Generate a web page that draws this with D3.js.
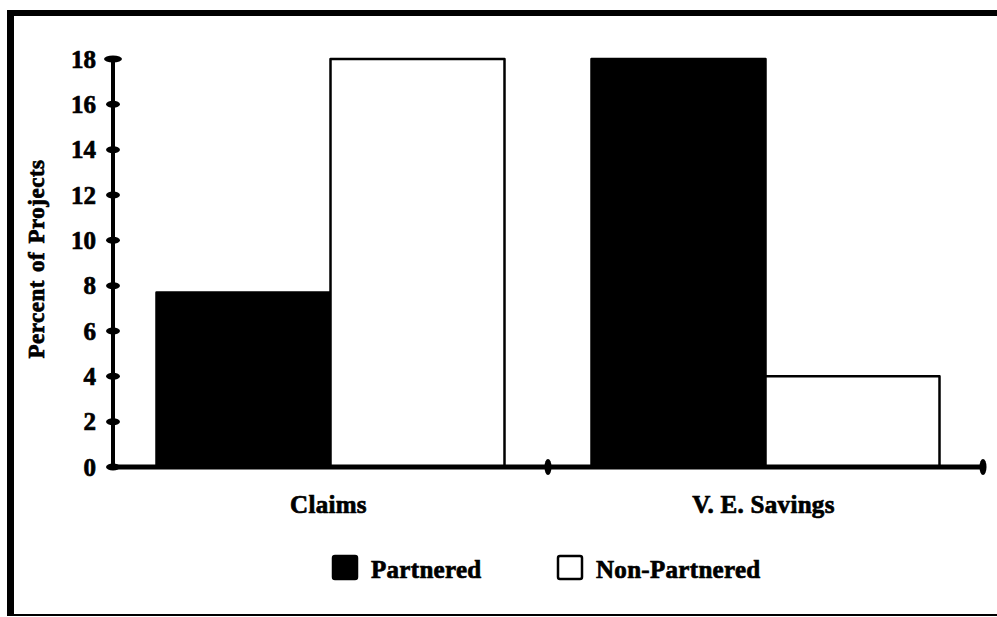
<!DOCTYPE html>
<html>
<head>
<meta charset="utf-8">
<script src="https://cdn.jsdelivr.net/npm/d3@7"></script>
<style>
  html, body { margin: 0; padding: 0; background: #fff; }
  svg { display: block; }
  text { font-family: "Liberation Serif", "Times New Roman", serif; font-weight: bold; fill: #000; stroke: #000; stroke-width: 0.7px; }
</style>
</head>
<body>
<svg id="chart" width="997" height="617"></svg>
<script>
const categories = ["Claims", "V. E. Savings"];
const seriesNames = ["Partnered", "Non-Partnered"];
const partnered = [7.7, 18];
const nonPartnered = [18, 4];
const yTicks = [0, 2, 4, 6, 8, 10, 12, 14, 16, 18];
const yTitle = "Percent of Projects";

const seriesValues = [partnered, nonPartnered];
const seriesFill = ["#000", "#fff"];

const svg = d3.select("#chart");
const W = 997, H = 617;

// frame
svg.append("rect").attr("x", 0).attr("y", 0).attr("width", W).attr("height", H).attr("fill", "#fff");
svg.append("line").attr("x1", 7).attr("x2", W).attr("y1", 13).attr("y2", 13).attr("stroke", "#000").attr("stroke-width", 6);
svg.append("line").attr("x1", 10.5).attr("x2", 10.5).attr("y1", 10).attr("y2", 616).attr("stroke", "#000").attr("stroke-width", 7);
svg.append("line").attr("x1", 7).attr("x2", W).attr("y1", 615).attr("y2", 615).attr("stroke", "#000").attr("stroke-width", 2);

const x0 = 113, x1 = 983, yBase = 467, yTop = 59;

const x = d3.scaleBand().domain(categories).range([x0, x1]).padding(0);
const xs = d3.scaleBand().domain(seriesNames).range([0, x.bandwidth()]).paddingInner(0).paddingOuter(0.25);
const y = d3.scaleLinear().domain([0, 18]).range([yBase, yTop]);

// bars
const barData = [];
categories.forEach((c, ci) => {
  seriesNames.forEach((s, si) => {
    barData.push({ c, s, si, v: seriesValues[si][ci] });
  });
});

svg.append("g").selectAll("rect").data(barData).join("rect")
  .attr("x", d => x(d.c) + xs(d.s))
  .attr("y", d => y(d.v))
  .attr("width", xs.bandwidth())
  .attr("height", d => y(0) - y(d.v))
  .attr("fill", d => seriesFill[d.si])
  .attr("stroke", "#000")
  .attr("stroke-width", 2.5)
  .attr("stroke-linejoin", "round");

// y axis line
svg.append("line").attr("x1", x0).attr("x2", x0).attr("y1", y(18)).attr("y2", y(0))
  .attr("stroke", "#000").attr("stroke-width", 4);
// x axis line
svg.append("line").attr("x1", x0).attr("x2", x1).attr("y1", yBase).attr("y2", yBase)
  .attr("stroke", "#000").attr("stroke-width", 5);

// y ticks (blobs)
svg.append("g").selectAll("ellipse").data(yTicks).join("ellipse")
  .attr("cx", x0)
  .attr("cy", d => y(d))
  .attr("rx", d => d === 18 ? 9 : 7)
  .attr("ry", 3.5)
  .attr("fill", "#000");

// y tick labels
svg.append("g").selectAll("text").data(yTicks).join("text")
  .attr("x", 96)
  .attr("y", d => y(d))
  .attr("dy", "0.35em")
  .attr("text-anchor", "end")
  .attr("font-size", 25)
  .text(d => d);

// x ticks (category boundaries)
const xBounds = [x(categories[1]), x1];
svg.append("g").selectAll("ellipse").data(xBounds).join("ellipse")
  .attr("cx", d => d)
  .attr("cy", yBase)
  .attr("rx", 3.5)
  .attr("ry", 8)
  .attr("fill", "#000");

// category labels
svg.append("g").selectAll("text").data(categories).join("text")
  .attr("x", d => x(d) + x.bandwidth() / 2 - 2)
  .attr("y", 513)
  .attr("text-anchor", "middle")
  .attr("font-size", 25)
  .attr("letter-spacing", 0.3)
  .text(d => d);

// y title
svg.append("text")
  .attr("transform", "translate(44,259) rotate(-90)")
  .attr("text-anchor", "middle")
  .attr("font-size", 23)
  .attr("letter-spacing", 0.5)
  .attr("word-spacing", 2)
  .text(yTitle);

// legend
const legendX = [333, 558];
const lg = svg.append("g").selectAll("g").data(seriesNames).join("g")
  .attr("transform", (d, i) => `translate(${legendX[i]},556)`);
lg.append("rect")
  .attr("x", 0).attr("y", 0).attr("width", 24).attr("height", 23)
  .attr("rx", 2)
  .attr("fill", (d, i) => seriesFill[i])
  .attr("stroke", "#000").attr("stroke-width", 2.5);
lg.append("text")
  .attr("x", 38).attr("y", 22)
  .attr("font-size", 25)
  .attr("letter-spacing", 0.3)
  .text(d => d);
</script>
</body>
</html>
